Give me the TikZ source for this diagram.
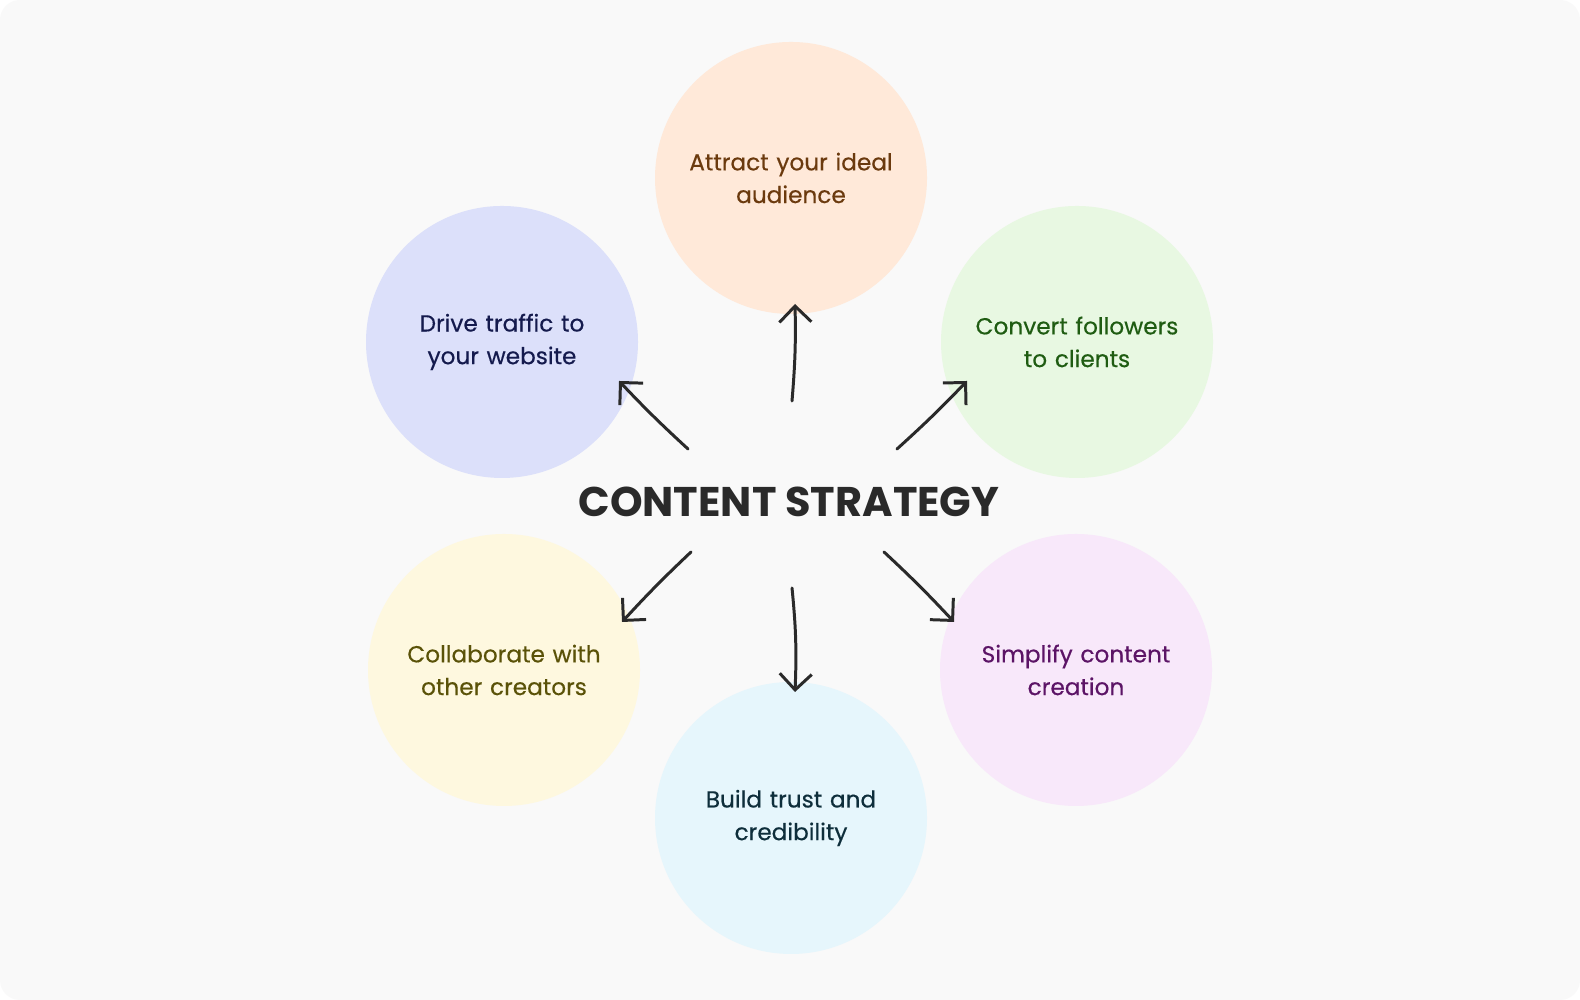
\documentclass[tikz,border=0pt]{standalone}
\usepackage{fontspec}
\setmainfont{Poppins}
\usetikzlibrary{arrows.meta, positioning, calc}
\definecolor{pagebg}{HTML}{F9F9F9}
\definecolor{inkdark}{HTML}{2A2A2A}
\definecolor{peachfill}{HTML}{FFE9D9}
\definecolor{peachtext}{HTML}{6B3A0E}
\definecolor{bluefill}{HTML}{DCE0FA}
\definecolor{bluetext}{HTML}{141A4D}
\definecolor{greenfill}{HTML}{E8F8E2}
\definecolor{greentext}{HTML}{1F5C12}
\definecolor{yellowfill}{HTML}{FEF8DF}
\definecolor{yellowtext}{HTML}{5A5208}
\definecolor{pinkfill}{HTML}{F8E8FA}
\definecolor{pinktext}{HTML}{5C1466}
\definecolor{cyanfill}{HTML}{E6F6FC}
\definecolor{cyantext}{HTML}{0E2E3B}

\begin{document}
\begin{tikzpicture}[
    every node/.style={font=\fontsize{6.6}{9.3}\selectfont\addfontfeature{FakeBold=0.4}},
    goal/.style={circle, draw=none, minimum size=2.72cm, inner sep=0pt,
                 text width=2.4cm, align=center},
    arr/.style={draw=inkdark, line width=0.85pt, line cap=round,
                -{Straight Barb[length=1.6mm, width=3.2mm, line width=0.85pt]}},
]

% Background
\fill[white] (0,0) rectangle (15.8,10);
\fill[pagebg, rounded corners=0.2cm] (0,0) rectangle (15.8,10);

% Title
\node[text=inkdark, font=\fontsize{11.8}{14}\selectfont\bfseries] (title) at (7.89,4.98) {CONTENT STRATEGY};

% === Goal circles ===
\node[goal, fill=peachfill, text=peachtext] (attract) at (7.91,8.22) {Attract your ideal\\audience};
\node[goal, fill=bluefill, text=bluetext] (drive) at (5.02,6.58) {Drive traffic to\\your website};
\node[goal, fill=greenfill, text=greentext] (convert) at (10.77,6.58) {Convert followers\\to clients};
\node[goal, fill=yellowfill, text=yellowtext] (collab) at (5.04,3.30) {Collaborate with\\other creators};
\node[goal, fill=pinkfill, text=pinktext] (simplify) at (10.76,3.30) {Simplify content\\creation};
\node[goal, fill=cyanfill, text=cyantext] (build) at (7.91,1.82) {Build trust and\\credibility};

% === Arrow ends ===
\coordinate (s-attract) at (7.92,5.99);
\coordinate (t-attract) at (7.95,6.96);
\coordinate (s-drive) at (6.88,5.51);
\coordinate (t-drive) at (6.19,6.19);
\coordinate (s-convert) at (8.97,5.51);
\coordinate (t-convert) at (9.67,6.19);
\coordinate (s-collab) at (6.91,4.48);
\coordinate (t-collab) at (6.22,3.78);
\coordinate (s-build) at (7.92,4.12);
\coordinate (t-build) at (7.95,3.08);
\coordinate (s-simplify) at (8.84,4.48);
\coordinate (t-simplify) at (9.54,3.78);

% === Arrows ===
\draw[arr] (s-attract) to[bend right=3] (t-attract);
\draw[arr] (s-drive) to[bend left=2] (t-drive);
\draw[arr] (s-convert) to[bend right=2] (t-convert);
\draw[arr] (s-collab) to[bend right=2] (t-collab);
\draw[arr] (s-build) to[bend left=4] (t-build);
\draw[arr] (s-simplify) to[bend left=2] (t-simplify);

\end{tikzpicture}
\end{document}
